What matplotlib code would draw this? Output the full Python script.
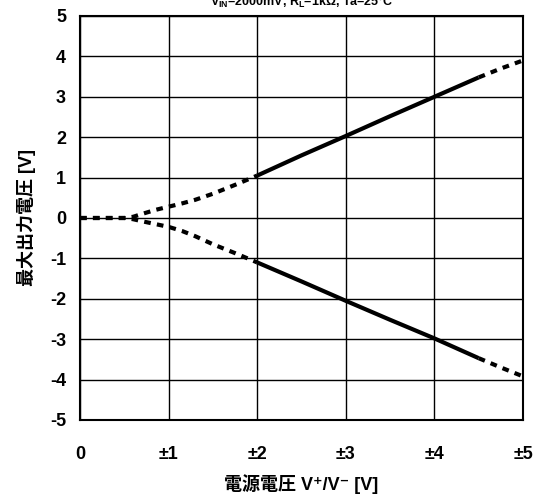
import matplotlib
matplotlib.use('Agg')
import matplotlib.pyplot as plt

plt.rcParams['font.family'] = ['Liberation Sans', 'Noto Sans CJK JP', 'DejaVu Sans']
plt.rcParams['axes.unicode_minus'] = False
plt.rcParams['mathtext.fontset'] = 'custom'
plt.rcParams['mathtext.rm'] = 'Liberation Sans:bold'
plt.rcParams['mathtext.default'] = 'regular'

# 電源電圧 (±V) と最大出力電圧
supply_v = [0, 0.25, 0.5, 0.6, 0.7, 0.85, 1.0, 1.15, 1.3, 1.5, 1.75, 2.0,
            2.5, 3.0, 3.5, 4.0, 4.5, 4.75, 5.0]
vout_high = [0, 0, 0, 0.03, 0.1, 0.2, 0.28, 0.36, 0.45, 0.6, 0.82, 1.05,
             1.55, 2.03, 2.52, 3.0, 3.48, 3.7, 3.9]
vout_low = [0, 0, 0, -0.03, -0.08, -0.15, -0.22, -0.32, -0.45, -0.65, -0.87, -1.1,
            -1.57, -2.05, -2.52, -2.98, -3.47, -3.7, -3.92]
# 実線で描く範囲 (index)
solid_from, solid_to = 11, 16

x_ticks = [0, 1, 2, 3, 4, 5]
x_ticklabels = ['0', '±1', '±2', '±3', '±4', '±5']
y_ticks = [-5, -4, -3, -2, -1, 0, 1, 2, 3, 4, 5]

fig = plt.figure(figsize=(5.36, 4.95), dpi=100)
ax = fig.add_axes([80 / 536, 1 - 420 / 495, 443 / 536, 404 / 495])

dot = (0, (1.6, 1.5))
for ys in (vout_high, vout_low):
    ax.plot(supply_v[:solid_from + 1], ys[:solid_from + 1], color='black',
            linewidth=3, linestyle=dot, solid_capstyle='butt')
    ax.plot(supply_v[solid_from:solid_to + 1], ys[solid_from:solid_to + 1],
            color='black', linewidth=3, solid_capstyle='butt')
    ax.plot(supply_v[solid_to:], ys[solid_to:], color='black',
            linewidth=3, linestyle=dot)

ax.set_xlim(0, 5)
ax.set_ylim(-5, 5)
ax.set_xticks(x_ticks)
ax.set_xticklabels(x_ticklabels)
ax.set_yticks(y_ticks)
ax.grid(True, color='black', linewidth=1)
ax.tick_params(length=0, labelsize=13, pad=10)
ax.tick_params(axis='x', pad=19)
for lab in ax.get_xticklabels() + ax.get_yticklabels():
    lab.set_fontweight('bold')
for sp in ax.spines.values():
    sp.set_linewidth(1.5)
    sp.set_color('black')

ax.set_xlabel('電源電圧 V⁺/V⁻ [V]', fontsize=13, fontweight='bold', labelpad=8)
ax.set_ylabel('最大出力電圧 [V]', fontsize=13, fontweight='bold', labelpad=10)

fig.text(0.563, 0.988, 'V$_{IN}$=2000mV, R$_{L}$=1kΩ, Ta=25°C',
         ha='center', va='baseline', fontsize=9, fontweight='bold')

fig.savefig('out.png', dpi=100)
